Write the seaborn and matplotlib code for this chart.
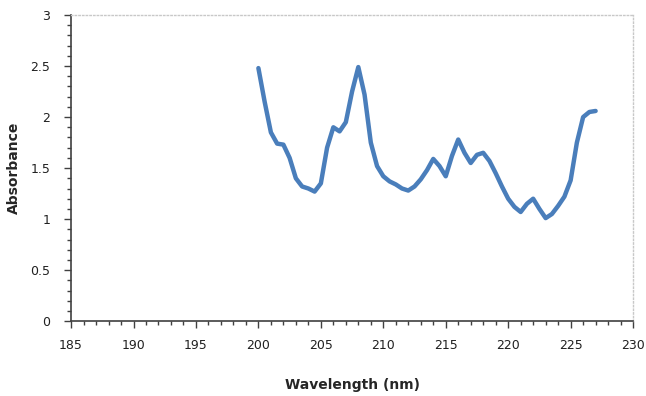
import matplotlib.pyplot as plt
import seaborn as sns
from matplotlib.ticker import MultipleLocator

# wavelength (nm) and absorbance
wavelength = [200, 200.5, 201, 201.5, 202, 202.5, 203, 203.5, 204, 204.5,
              205, 205.5, 206, 206.5, 207, 207.5, 208, 208.5, 209, 209.5,
              210, 210.5, 211, 211.5, 212, 212.5, 213, 213.5, 214, 214.5,
              215, 215.5, 216, 216.5, 217, 217.5, 218, 218.5, 219, 219.5,
              220, 220.5, 221, 221.5, 222, 222.5, 223, 223.5, 224, 224.5,
              225, 225.5, 226, 226.5, 227]
absorbance = [2.48, 2.15, 1.85, 1.74, 1.73, 1.60, 1.40, 1.32, 1.30, 1.27,
              1.35, 1.70, 1.90, 1.86, 1.95, 2.25, 2.49, 2.22, 1.75, 1.52,
              1.42, 1.37, 1.34, 1.30, 1.28, 1.32, 1.39, 1.48, 1.59, 1.52,
              1.42, 1.62, 1.78, 1.65, 1.55, 1.63, 1.65, 1.57, 1.45, 1.32,
              1.20, 1.12, 1.07, 1.15, 1.20, 1.10, 1.01, 1.05, 1.13, 1.22,
              1.38, 1.75, 2.00, 2.05, 2.06]

sns.set_style('white')

fig = plt.figure(figsize=(6.46, 3.96), dpi=100)
ax = fig.add_axes([0.110, 0.189, 0.870, 0.773])

sns.lineplot(x=wavelength, y=absorbance, color='#4A7EBB', linewidth=3.2,
             solid_joinstyle='round', solid_capstyle='round', ax=ax)

ax.set_xlim(185, 230)
ax.set_ylim(0, 3)
ax.xaxis.set_major_locator(MultipleLocator(5))
ax.xaxis.set_minor_locator(MultipleLocator(1))
ax.yaxis.set_major_locator(MultipleLocator(0.5))
ax.yaxis.set_minor_locator(MultipleLocator(0.1))
ax.set_yticks([0, 0.5, 1, 1.5, 2, 2.5, 3], ['0', '0.5', '1', '1.5', '2', '2.5', '3'])

ax.tick_params(which='major', direction='out', length=5, width=1, color='#404040',
               labelsize=9, labelcolor='#202020', bottom=True, left=True)
ax.tick_params(axis='y', which='major', pad=10)
ax.tick_params(axis='x', which='major', pad=8)
ax.tick_params(which='minor', direction='out', length=3, width=1, color='#404040',
               bottom=True, left=True)

for side in ['left', 'bottom']:
    ax.spines[side].set_color('#404040')
    ax.spines[side].set_linewidth(1.2)
for side in ['top', 'right']:
    ax.spines[side].set_color('#c8c8c8')
    ax.spines[side].set_linestyle(':')
    ax.spines[side].set_linewidth(1)

ax.set_xlabel('Wavelength (nm)', fontsize=10, fontweight='bold')
ax.set_ylabel('Absorbance', fontsize=10, fontweight='bold')
ax.xaxis.set_label_coords(0.5, -0.185)
ax.yaxis.set_label_coords(-0.09, 0.5)

fig.savefig('out.png', dpi=100)
